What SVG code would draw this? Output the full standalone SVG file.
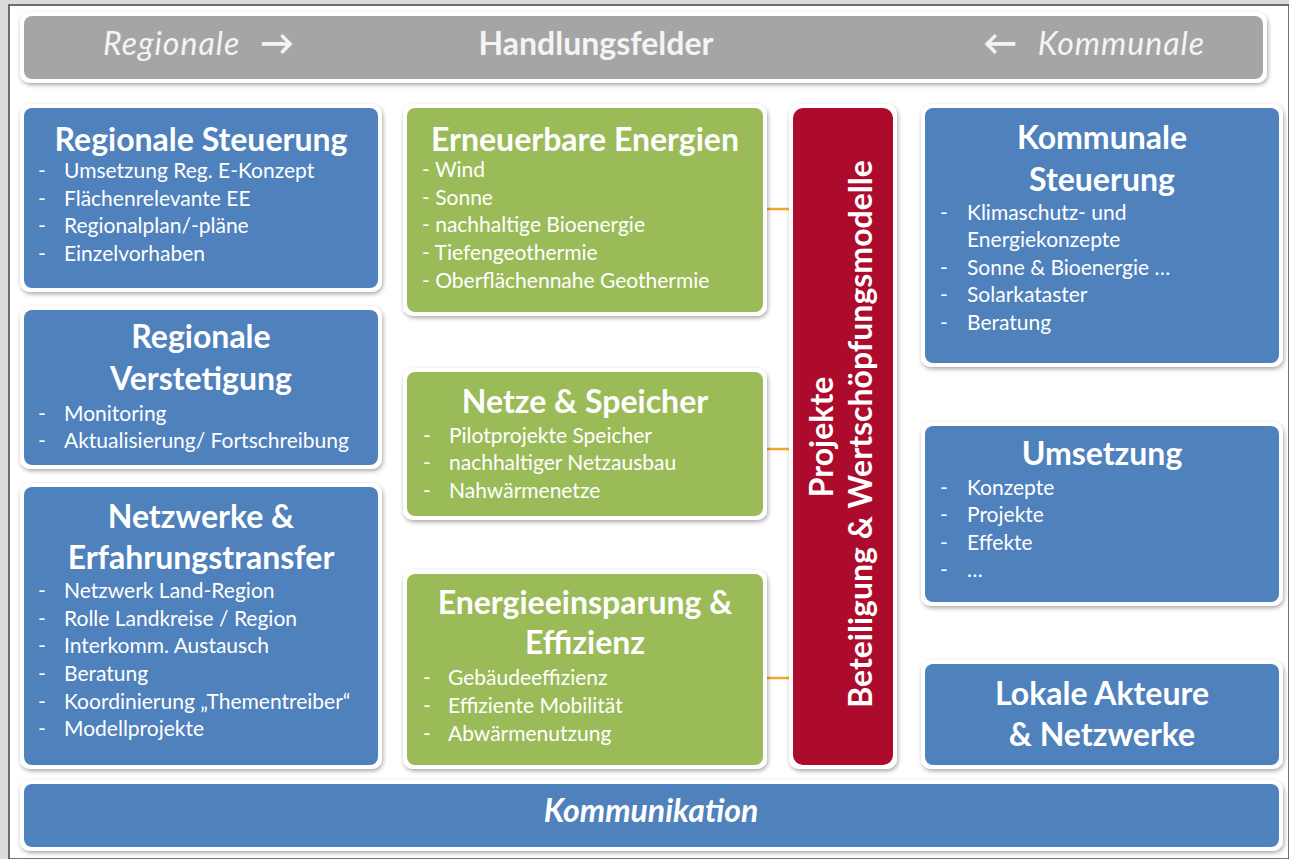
<svg xmlns="http://www.w3.org/2000/svg" width="1289" height="859" viewBox="0 0 1289 859">
  <defs>
    <filter id="sh" x="-10%" y="-10%" width="120%" height="130%">
      <feDropShadow dx="1" dy="2" stdDeviation="2" flood-color="#000" flood-opacity="0.35"/>
    </filter>
    <style>
      .frame{fill:#fff;filter:url(#sh)}
      .blue{fill:#4f81bd}
      .green{fill:#9bbb59}
      .red{fill:#ad0b2b}
      .gray{fill:#a5a5a5}
      text{font-family:Lato,"Open Sans","Liberation Sans",sans-serif;fill:#fff}
      .t{font-weight:bold;font-size:32px;text-anchor:middle}
      .i{font-size:21px}
      .h{font-size:32px;fill:#f4f4f4}
      .it{font-style:italic;letter-spacing:1px}
      .ar{font-size:34px;font-weight:bold;fill:#f4f4f4}
      .conn{stroke:#f0a830;stroke-width:2.5;fill:none}
    </style>
  </defs>

  <rect x="0" y="0" width="1289" height="859" fill="#dcdcdc"/>
  <rect x="9" y="5" width="1280" height="854" fill="#fff" stroke="#444" stroke-width="1.5"/>

  <g id="header">
    <rect class="frame" x="20" y="12" width="1247" height="71" rx="10"/>
    <rect class="gray" x="24" y="16" width="1239" height="63" rx="8"/>
    <text class="h it" x="103" y="55">Regionale</text>
    <text class="ar" x="260" y="55">→</text>
    <text class="h" x="596" y="55" font-weight="bold" text-anchor="middle">Handlungsfelder</text>
    <text class="ar" x="1017" y="55" text-anchor="end">←</text>
    <text class="h it" x="1205" y="55" text-anchor="end">Kommunale</text>
  </g>

  <g id="connectors">
    <line class="conn" x1="763" y1="209" x2="793" y2="209"/>
    <line class="conn" x1="763" y1="449" x2="793" y2="449"/>
    <line class="conn" x1="763" y1="678" x2="793" y2="678"/>
  </g>

  <g id="regionale-steuerung">
    <rect class="frame" x="20" y="104" width="362" height="188" rx="10"/>
    <rect class="blue" x="24" y="108" width="354" height="180" rx="8"/>
    <text class="t" x="201" y="151">Regionale Steuerung</text>
    <text class="i" x="38" y="178">-</text><text class="i" x="64" y="178">Umsetzung Reg. E-Konzept</text>
    <text class="i" x="38" y="206">-</text><text class="i" x="64" y="206">Flächenrelevante EE</text>
    <text class="i" x="38" y="233">-</text><text class="i" x="64" y="233">Regionalplan/-pläne</text>
    <text class="i" x="38" y="261">-</text><text class="i" x="64" y="261">Einzelvorhaben</text>
  </g>

  <g id="regionale-verstetigung">
    <rect class="frame" x="20" y="306" width="362" height="163" rx="10"/>
    <rect class="blue" x="24" y="310" width="354" height="155" rx="8"/>
    <text class="t" x="201" y="348">Regionale</text>
    <text class="t" x="201" y="390">Verstetigung</text>
    <text class="i" x="38" y="421">-</text><text class="i" x="64" y="421">Monitoring</text>
    <text class="i" x="38" y="448">-</text><text class="i" x="64" y="448">Aktualisierung/ Fortschreibung</text>
  </g>

  <g id="netzwerke">
    <rect class="frame" x="20" y="483" width="362" height="286" rx="10"/>
    <rect class="blue" x="24" y="487" width="354" height="278" rx="8"/>
    <text class="t" x="201" y="528">Netzwerke &amp;</text>
    <text class="t" x="201" y="569">Erfahrungstransfer</text>
    <text class="i" x="38" y="598">-</text><text class="i" x="64" y="598">Netzwerk Land-Region</text>
    <text class="i" x="38" y="626">-</text><text class="i" x="64" y="626">Rolle Landkreise / Region</text>
    <text class="i" x="38" y="653">-</text><text class="i" x="64" y="653">Interkomm. Austausch</text>
    <text class="i" x="38" y="681">-</text><text class="i" x="64" y="681">Beratung</text>
    <text class="i" x="38" y="709">-</text><text class="i" x="64" y="709">Koordinierung „Thementreiber“</text>
    <text class="i" x="38" y="736">-</text><text class="i" x="64" y="736">Modellprojekte</text>
  </g>

  <g id="erneuerbare-energien">
    <rect class="frame" x="403" y="104" width="364" height="212" rx="10"/>
    <rect class="green" x="407" y="108" width="356" height="204" rx="8"/>
    <text class="t" x="585" y="151">Erneuerbare Energien</text>
    <text class="i" x="422" y="177">- Wind</text>
    <text class="i" x="422" y="205">- Sonne</text>
    <text class="i" x="422" y="232">- nachhaltige Bioenergie</text>
    <text class="i" x="422" y="260">- Tiefengeothermie</text>
    <text class="i" x="422" y="288">- Oberflächennahe Geothermie</text>
  </g>

  <g id="netze-speicher">
    <rect class="frame" x="403" y="368" width="364" height="152" rx="10"/>
    <rect class="green" x="407" y="372" width="356" height="144" rx="8"/>
    <text class="t" x="585" y="413">Netze &amp; Speicher</text>
    <text class="i" x="423" y="443">-</text><text class="i" x="449" y="443">Pilotprojekte Speicher</text>
    <text class="i" x="423" y="470">-</text><text class="i" x="449" y="470">nachhaltiger Netzausbau</text>
    <text class="i" x="423" y="498">-</text><text class="i" x="449" y="498">Nahwärmenetze</text>
  </g>

  <g id="energieeinsparung">
    <rect class="frame" x="403" y="570" width="364" height="199" rx="10"/>
    <rect class="green" x="407" y="574" width="356" height="191" rx="8"/>
    <text class="t" x="585" y="614">Energieeinsparung &amp;</text>
    <text class="t" x="585" y="654">Effizienz</text>
    <text class="i" x="423" y="685">-</text><text class="i" x="448" y="685">Gebäudeeffizienz</text>
    <text class="i" x="423" y="713">-</text><text class="i" x="448" y="713">Effiziente Mobilität</text>
    <text class="i" x="423" y="741">-</text><text class="i" x="448" y="741">Abwärmenutzung</text>
  </g>

  <g id="projekte">
    <rect class="frame" x="789" y="104" width="108" height="665" rx="10"/>
    <rect class="red" x="793" y="108" width="100" height="657" rx="10"/>
    <text class="t" transform="translate(833,437) rotate(-90)" x="0" y="0">Projekte</text>
    <text class="t" transform="translate(872,434) rotate(-90)" x="0" y="0">Beteiligung &amp; Wertschöpfungsmodelle</text>
  </g>

  <g id="kommunale-steuerung">
    <rect class="frame" x="921" y="104" width="362" height="263" rx="10"/>
    <rect class="blue" x="925" y="108" width="354" height="255" rx="8"/>
    <text class="t" x="1102" y="149">Kommunale</text>
    <text class="t" x="1102" y="191">Steuerung</text>
    <text class="i" x="940" y="220">-</text><text class="i" x="967" y="220">Klimaschutz- und</text>
    <text class="i" x="967" y="247">Energiekonzepte</text>
    <text class="i" x="940" y="275">-</text><text class="i" x="967" y="275">Sonne &amp; Bioenergie …</text>
    <text class="i" x="940" y="302">-</text><text class="i" x="967" y="302">Solarkataster</text>
    <text class="i" x="940" y="330">-</text><text class="i" x="967" y="330">Beratung</text>
  </g>

  <g id="umsetzung">
    <rect class="frame" x="921" y="422" width="362" height="184" rx="10"/>
    <rect class="blue" x="925" y="426" width="354" height="176" rx="8"/>
    <text class="t" x="1102" y="465">Umsetzung</text>
    <text class="i" x="940" y="495">-</text><text class="i" x="967" y="495">Konzepte</text>
    <text class="i" x="940" y="522">-</text><text class="i" x="967" y="522">Projekte</text>
    <text class="i" x="940" y="550">-</text><text class="i" x="967" y="550">Effekte</text>
    <text class="i" x="940" y="577">-</text><text class="i" x="967" y="577">…</text>
  </g>

  <g id="lokale-akteure">
    <rect class="frame" x="921" y="660" width="362" height="109" rx="10"/>
    <rect class="blue" x="925" y="664" width="354" height="101" rx="8"/>
    <text class="t" x="1102" y="705">Lokale Akteure</text>
    <text class="t" x="1102" y="746">&amp; Netzwerke</text>
  </g>

  <g id="kommunikation">
    <rect class="frame" x="20" y="780" width="1263" height="71" rx="10"/>
    <rect class="blue" x="24" y="784" width="1255" height="63" rx="8"/>
    <text class="t" x="651" y="822" font-size="33px" font-style="italic">Kommunikation</text>
  </g>
</svg>
